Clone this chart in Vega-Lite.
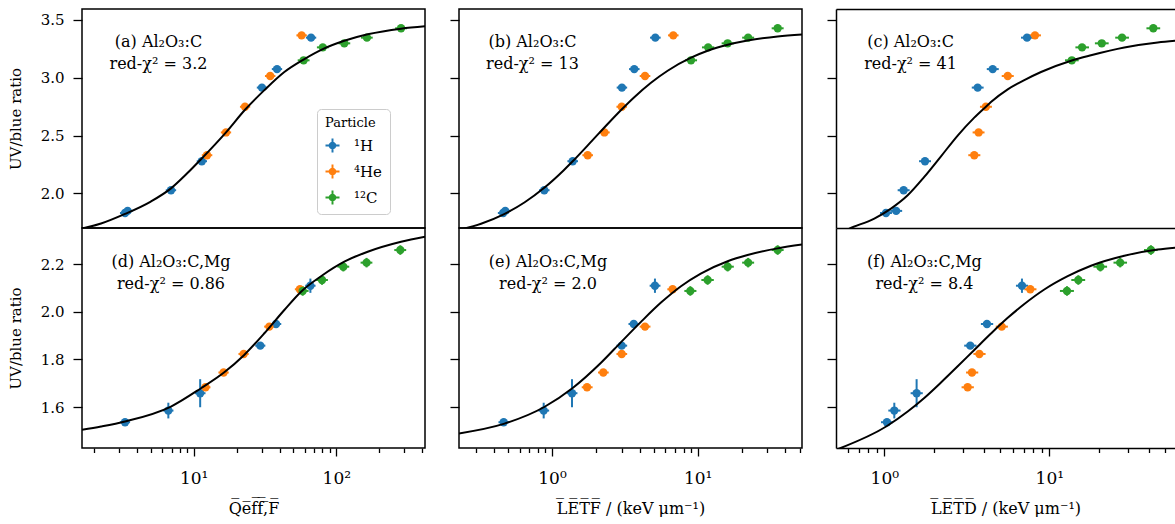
{
"$schema": "https://vega.github.io/schema/vega-lite/v6.json",
"padding": {"left": 7, "top": 8, "right": 0, "bottom": 0},
"background": "white",
"datasets": {
"pts": [
{"p":"a","s":"¹H","x":3.30,"y":1.83,"x1":3.04,"x2":3.58,"y1":1.822,"y2":1.838},
{"p":"a","s":"¹H","x":3.44,"y":1.848,"x1":3.16,"x2":3.74,"y1":1.840,"y2":1.856},
{"p":"a","s":"¹H","x":6.93,"y":2.027,"x1":6.37,"x2":7.53,"y1":2.019,"y2":2.035},
{"p":"a","s":"¹H","x":11.4,"y":2.278,"x1":10.5,"x2":12.4,"y1":2.27,"y2":2.286},
{"p":"a","s":"¹H","x":30.1,"y":2.915,"x1":27.7,"x2":32.7,"y1":2.907,"y2":2.923},
{"p":"a","s":"¹H","x":38.4,"y":3.075,"x1":35.3,"x2":41.7,"y1":3.067,"y2":3.083},
{"p":"a","s":"¹H","x":66.5,"y":3.347,"x1":61.2,"x2":72.3,"y1":3.339,"y2":3.355},
{"p":"a","s":"⁴He","x":12.4,"y":2.33,"x1":11.4,"x2":13.5,"y1":2.322,"y2":2.338},
{"p":"a","s":"⁴He","x":16.85,"y":2.527,"x1":15.5,"x2":18.3,"y1":2.519,"y2":2.535},
{"p":"a","s":"⁴He","x":22.9,"y":2.749,"x1":21.1,"x2":24.9,"y1":2.741,"y2":2.757},
{"p":"a","s":"⁴He","x":34.4,"y":3.015,"x1":31.6,"x2":37.4,"y1":3.007,"y2":3.023},
{"p":"a","s":"⁴He","x":57.1,"y":3.367,"x1":52.5,"x2":62.1,"y1":3.359,"y2":3.375},
{"p":"a","s":"¹²C","x":59.0,"y":3.151,"x1":53.6,"x2":64.9,"y1":3.131,"y2":3.171},
{"p":"a","s":"¹²C","x":80.4,"y":3.263,"x1":73.1,"x2":88.4,"y1":3.243,"y2":3.283},
{"p":"a","s":"¹²C","x":113.8,"y":3.298,"x1":103.5,"x2":125.2,"y1":3.278,"y2":3.318},
{"p":"a","s":"¹²C","x":164,"y":3.347,"x1":149,"x2":180,"y1":3.327,"y2":3.367},
{"p":"a","s":"¹²C","x":284.5,"y":3.428,"x1":258.6,"x2":313,"y1":3.408,"y2":3.448},

{"p":"b","s":"¹H","x":0.462,"y":1.83,"x1":0.425,"x2":0.502,"y1":1.822,"y2":1.838},
{"p":"b","s":"¹H","x":0.478,"y":1.848,"x1":0.44,"x2":0.52,"y1":1.840,"y2":1.856},
{"p":"b","s":"¹H","x":0.885,"y":2.027,"x1":0.814,"x2":0.962,"y1":2.019,"y2":2.035},
{"p":"b","s":"¹H","x":1.387,"y":2.278,"x1":1.276,"x2":1.508,"y1":2.27,"y2":2.286},
{"p":"b","s":"¹H","x":3.02,"y":2.915,"x1":2.78,"x2":3.28,"y1":2.907,"y2":2.923},
{"p":"b","s":"¹H","x":3.67,"y":3.075,"x1":3.38,"x2":3.99,"y1":3.067,"y2":3.083},
{"p":"b","s":"¹H","x":5.12,"y":3.347,"x1":4.71,"x2":5.57,"y1":3.339,"y2":3.355},
{"p":"b","s":"⁴He","x":1.758,"y":2.33,"x1":1.617,"x2":1.911,"y1":2.322,"y2":2.338},
{"p":"b","s":"⁴He","x":2.29,"y":2.527,"x1":2.107,"x2":2.49,"y1":2.519,"y2":2.535},
{"p":"b","s":"⁴He","x":3.01,"y":2.749,"x1":2.77,"x2":3.27,"y1":2.741,"y2":2.757},
{"p":"b","s":"⁴He","x":4.35,"y":3.015,"x1":4.0,"x2":4.73,"y1":3.007,"y2":3.023},
{"p":"b","s":"⁴He","x":6.80,"y":3.367,"x1":6.26,"x2":7.39,"y1":3.359,"y2":3.375},
{"p":"b","s":"¹²C","x":9.0,"y":3.151,"x1":8.18,"x2":9.9,"y1":3.131,"y2":3.171},
{"p":"b","s":"¹²C","x":11.8,"y":3.263,"x1":10.7,"x2":13.0,"y1":3.243,"y2":3.283},
{"p":"b","s":"¹²C","x":16.06,"y":3.298,"x1":14.6,"x2":17.7,"y1":3.278,"y2":3.318},
{"p":"b","s":"¹²C","x":22.2,"y":3.347,"x1":20.2,"x2":24.4,"y1":3.327,"y2":3.367},
{"p":"b","s":"¹²C","x":35.4,"y":3.428,"x1":32.2,"x2":38.9,"y1":3.408,"y2":3.448},

{"p":"c","s":"¹H","x":1.024,"y":1.83,"x1":0.942,"x2":1.113,"y1":1.822,"y2":1.838},
{"p":"c","s":"¹H","x":1.18,"y":1.848,"x1":1.086,"x2":1.283,"y1":1.840,"y2":1.856},
{"p":"c","s":"¹H","x":1.31,"y":2.027,"x1":1.205,"x2":1.424,"y1":2.019,"y2":2.035},
{"p":"c","s":"¹H","x":1.765,"y":2.278,"x1":1.624,"x2":1.919,"y1":2.27,"y2":2.286},
{"p":"c","s":"¹H","x":3.68,"y":2.915,"x1":3.39,"x2":4.0,"y1":2.907,"y2":2.923},
{"p":"c","s":"¹H","x":4.54,"y":3.075,"x1":4.18,"x2":4.94,"y1":3.067,"y2":3.083},
{"p":"c","s":"¹H","x":7.33,"y":3.347,"x1":6.74,"x2":7.97,"y1":3.339,"y2":3.355},
{"p":"c","s":"⁴He","x":3.51,"y":2.33,"x1":3.23,"x2":3.82,"y1":2.322,"y2":2.338},
{"p":"c","s":"⁴He","x":3.73,"y":2.527,"x1":3.43,"x2":4.05,"y1":2.519,"y2":2.535},
{"p":"c","s":"⁴He","x":4.13,"y":2.749,"x1":3.80,"x2":4.49,"y1":2.741,"y2":2.757},
{"p":"c","s":"⁴He","x":5.60,"y":3.015,"x1":5.15,"x2":6.09,"y1":3.007,"y2":3.023},
{"p":"c","s":"⁴He","x":8.19,"y":3.367,"x1":7.53,"x2":8.90,"y1":3.359,"y2":3.375},
{"p":"c","s":"¹²C","x":13.7,"y":3.151,"x1":12.45,"x2":15.07,"y1":3.131,"y2":3.171},
{"p":"c","s":"¹²C","x":15.8,"y":3.263,"x1":14.4,"x2":17.4,"y1":3.243,"y2":3.283},
{"p":"c","s":"¹²C","x":20.8,"y":3.298,"x1":18.9,"x2":22.9,"y1":3.278,"y2":3.318},
{"p":"c","s":"¹²C","x":27.6,"y":3.347,"x1":25.1,"x2":30.4,"y1":3.327,"y2":3.367},
{"p":"c","s":"¹²C","x":42.7,"y":3.428,"x1":38.8,"x2":47.0,"y1":3.408,"y2":3.448},

{"p":"d","s":"¹H","x":3.30,"y":1.536,"x1":3.04,"x2":3.58,"y1":1.528,"y2":1.544},
{"p":"d","s":"¹H","x":6.64,"y":1.585,"x1":6.11,"x2":7.21,"y1":1.552,"y2":1.618},
{"p":"d","s":"¹H","x":11.1,"y":1.658,"x1":10.2,"x2":12.1,"y1":1.599,"y2":1.717},
{"p":"d","s":"¹H","x":29.3,"y":1.858,"x1":27.0,"x2":31.8,"y1":1.85,"y2":1.866},
{"p":"d","s":"¹H","x":37.8,"y":1.949,"x1":34.8,"x2":41.1,"y1":1.941,"y2":1.957},
{"p":"d","s":"¹H","x":65.8,"y":2.11,"x1":60.5,"x2":71.5,"y1":2.08,"y2":2.14},
{"p":"d","s":"⁴He","x":12.1,"y":1.683,"x1":11.1,"x2":13.1,"y1":1.675,"y2":1.691},
{"p":"d","s":"⁴He","x":16.2,"y":1.745,"x1":14.9,"x2":17.6,"y1":1.737,"y2":1.753},
{"p":"d","s":"⁴He","x":22.4,"y":1.823,"x1":20.6,"x2":24.3,"y1":1.815,"y2":1.831},
{"p":"d","s":"⁴He","x":33.9,"y":1.938,"x1":31.2,"x2":36.8,"y1":1.93,"y2":1.946},
{"p":"d","s":"⁴He","x":55.6,"y":2.095,"x1":51.2,"x2":60.4,"y1":2.087,"y2":2.103},
{"p":"d","s":"¹²C","x":58.1,"y":2.088,"x1":52.8,"x2":63.9,"y1":2.068,"y2":2.108},
{"p":"d","s":"¹²C","x":79.4,"y":2.134,"x1":72.2,"x2":87.3,"y1":2.114,"y2":2.154},
{"p":"d","s":"¹²C","x":112,"y":2.19,"x1":101.8,"x2":123.2,"y1":2.17,"y2":2.21},
{"p":"d","s":"¹²C","x":163,"y":2.207,"x1":148,"x2":179,"y1":2.187,"y2":2.227},
{"p":"d","s":"¹²C","x":281,"y":2.26,"x1":255,"x2":309,"y1":2.24,"y2":2.28},

{"p":"e","s":"¹H","x":0.466,"y":1.536,"x1":0.429,"x2":0.508,"y1":1.528,"y2":1.544},
{"p":"e","s":"¹H","x":0.877,"y":1.585,"x1":0.807,"x2":0.956,"y1":1.552,"y2":1.618},
{"p":"e","s":"¹H","x":1.372,"y":1.658,"x1":1.262,"x2":1.495,"y1":1.599,"y2":1.717},
{"p":"e","s":"¹H","x":3.01,"y":1.858,"x1":2.77,"x2":3.28,"y1":1.85,"y2":1.866},
{"p":"e","s":"¹H","x":3.64,"y":1.949,"x1":3.35,"x2":3.97,"y1":1.941,"y2":1.957},
{"p":"e","s":"¹H","x":5.09,"y":2.11,"x1":4.68,"x2":5.55,"y1":2.08,"y2":2.14},
{"p":"e","s":"⁴He","x":1.74,"y":1.683,"x1":1.60,"x2":1.90,"y1":1.675,"y2":1.691},
{"p":"e","s":"⁴He","x":2.25,"y":1.745,"x1":2.07,"x2":2.45,"y1":1.737,"y2":1.753},
{"p":"e","s":"⁴He","x":3.01,"y":1.823,"x1":2.77,"x2":3.28,"y1":1.815,"y2":1.831},
{"p":"e","s":"⁴He","x":4.35,"y":1.938,"x1":4.0,"x2":4.74,"y1":1.93,"y2":1.946},
{"p":"e","s":"⁴He","x":6.73,"y":2.095,"x1":6.19,"x2":7.34,"y1":2.087,"y2":2.103},
{"p":"e","s":"¹²C","x":8.9,"y":2.088,"x1":8.1,"x2":9.8,"y1":2.068,"y2":2.108},
{"p":"e","s":"¹²C","x":11.7,"y":2.134,"x1":10.6,"x2":12.9,"y1":2.114,"y2":2.154},
{"p":"e","s":"¹²C","x":16.06,"y":2.19,"x1":14.6,"x2":17.7,"y1":2.17,"y2":2.21},
{"p":"e","s":"¹²C","x":22.2,"y":2.207,"x1":20.2,"x2":24.4,"y1":2.187,"y2":2.227},
{"p":"e","s":"¹²C","x":35.4,"y":2.26,"x1":32.2,"x2":38.9,"y1":2.24,"y2":2.28},

{"p":"f","s":"¹H","x":1.038,"y":1.536,"x1":0.955,"x2":1.131,"y1":1.528,"y2":1.544},
{"p":"f","s":"¹H","x":1.15,"y":1.585,"x1":1.058,"x2":1.254,"y1":1.552,"y2":1.618},
{"p":"f","s":"¹H","x":1.57,"y":1.658,"x1":1.444,"x2":1.711,"y1":1.599,"y2":1.717},
{"p":"f","s":"¹H","x":3.32,"y":1.858,"x1":3.05,"x2":3.62,"y1":1.85,"y2":1.866},
{"p":"f","s":"¹H","x":4.19,"y":1.949,"x1":3.85,"x2":4.57,"y1":1.941,"y2":1.957},
{"p":"f","s":"¹H","x":6.83,"y":2.11,"x1":6.28,"x2":7.44,"y1":2.08,"y2":2.14},
{"p":"f","s":"⁴He","x":3.20,"y":1.683,"x1":2.94,"x2":3.49,"y1":1.675,"y2":1.691},
{"p":"f","s":"⁴He","x":3.40,"y":1.745,"x1":3.13,"x2":3.71,"y1":1.737,"y2":1.753},
{"p":"f","s":"⁴He","x":3.77,"y":1.823,"x1":3.47,"x2":4.11,"y1":1.815,"y2":1.831},
{"p":"f","s":"⁴He","x":5.15,"y":1.938,"x1":4.74,"x2":5.61,"y1":1.93,"y2":1.946},
{"p":"f","s":"⁴He","x":7.67,"y":2.095,"x1":7.06,"x2":8.36,"y1":2.087,"y2":2.103},
{"p":"f","s":"¹²C","x":12.8,"y":2.088,"x1":11.6,"x2":14.1,"y1":2.068,"y2":2.108},
{"p":"f","s":"¹²C","x":15.0,"y":2.134,"x1":13.6,"x2":16.5,"y1":2.114,"y2":2.154},
{"p":"f","s":"¹²C","x":20.4,"y":2.19,"x1":18.5,"x2":22.4,"y1":2.17,"y2":2.21},
{"p":"f","s":"¹²C","x":26.9,"y":2.207,"x1":24.5,"x2":29.6,"y1":2.187,"y2":2.227},
{"p":"f","s":"¹²C","x":41.3,"y":2.26,"x1":37.5,"x2":45.4,"y1":2.24,"y2":2.28}
],
"fit": [
{"p":"a","x":1.647,"y":1.696},{"p":"a","x":2.24,"y":1.739},{"p":"a","x":3.3,"y":1.822},{"p":"a","x":5.0,"y":1.929},{"p":"a","x":6.93,"y":2.043},{"p":"a","x":9.0,"y":2.173},{"p":"a","x":11.25,"y":2.295},{"p":"a","x":16.85,"y":2.528},{"p":"a","x":22.9,"y":2.723},{"p":"a","x":31.3,"y":2.893},{"p":"a","x":43.2,"y":3.05},{"p":"a","x":59.7,"y":3.162},{"p":"a","x":80.4,"y":3.248},{"p":"a","x":113.8,"y":3.32},{"p":"a","x":166,"y":3.376},{"p":"a","x":284.5,"y":3.425},{"p":"a","x":418.7,"y":3.445},
{"p":"b","x":0.23,"y":1.683},{"p":"b","x":0.326,"y":1.737},{"p":"b","x":0.466,"y":1.818},{"p":"b","x":0.65,"y":1.923},{"p":"b","x":0.885,"y":2.048},{"p":"b","x":1.2,"y":2.198},{"p":"b","x":1.387,"y":2.277},{"p":"b","x":1.9,"y":2.46},{"p":"b","x":2.41,"y":2.60},{"p":"b","x":2.98,"y":2.721},{"p":"b","x":3.67,"y":2.832},{"p":"b","x":4.78,"y":2.957},{"p":"b","x":6.22,"y":3.061},{"p":"b","x":9.0,"y":3.174},{"p":"b","x":11.7,"y":3.234},{"p":"b","x":16.06,"y":3.286},{"p":"b","x":22,"y":3.323},{"p":"b","x":35.4,"y":3.358},{"p":"b","x":52,"y":3.374},
{"p":"c","x":0.509,"y":1.64},{"p":"c","x":0.614,"y":1.695},{"p":"c","x":0.87,"y":1.782},{"p":"c","x":1.098,"y":1.868},{"p":"c","x":1.386,"y":1.983},{"p":"c","x":1.747,"y":2.142},{"p":"c","x":2.206,"y":2.32},{"p":"c","x":2.785,"y":2.50},{"p":"c","x":3.51,"y":2.655},{"p":"c","x":4.13,"y":2.75},{"p":"c","x":4.43,"y":2.79},{"p":"c","x":5.6,"y":2.90},{"p":"c","x":7.06,"y":2.98},{"p":"c","x":8.91,"y":3.05},{"p":"c","x":13.7,"y":3.15},{"p":"c","x":17.9,"y":3.195},{"p":"c","x":28.5,"y":3.262},{"p":"c","x":45.4,"y":3.305},{"p":"c","x":58.6,"y":3.32},
{"p":"d","x":1.647,"y":1.504},{"p":"d","x":2.24,"y":1.518},{"p":"d","x":3.3,"y":1.539},{"p":"d","x":6.93,"y":1.602},{"p":"d","x":11.25,"y":1.679},{"p":"d","x":16.3,"y":1.745},{"p":"d","x":22.6,"y":1.819},{"p":"d","x":31.3,"y":1.91},{"p":"d","x":43.2,"y":2.008},{"p":"d","x":56.6,"y":2.085},{"p":"d","x":80.4,"y":2.155},{"p":"d","x":113.8,"y":2.211},{"p":"d","x":166,"y":2.253},{"p":"d","x":284.5,"y":2.295},{"p":"d","x":418.7,"y":2.316},
{"p":"e","x":0.23,"y":1.489},{"p":"e","x":0.466,"y":1.529},{"p":"e","x":0.885,"y":1.600},{"p":"e","x":1.387,"y":1.680},{"p":"e","x":2.17,"y":1.786},{"p":"e","x":2.98,"y":1.873},{"p":"e","x":4.08,"y":1.958},{"p":"e","x":5.6,"y":2.039},{"p":"e","x":7.68,"y":2.108},{"p":"e","x":10.5,"y":2.161},{"p":"e","x":16.06,"y":2.213},{"p":"e","x":22,"y":2.239},{"p":"e","x":35.4,"y":2.267},{"p":"e","x":52,"y":2.283},
{"p":"f","x":0.509,"y":1.42},{"p":"f","x":1.038,"y":1.52},{"p":"f","x":1.386,"y":1.581},{"p":"f","x":1.747,"y":1.638},{"p":"f","x":2.206,"y":1.703},{"p":"f","x":2.785,"y":1.771},{"p":"f","x":3.51,"y":1.84},{"p":"f","x":4.43,"y":1.909},{"p":"f","x":5.6,"y":1.975},{"p":"f","x":7.06,"y":2.033},{"p":"f","x":9.33,"y":2.094},{"p":"f","x":12.93,"y":2.15},{"p":"f","x":17.9,"y":2.194},{"p":"f","x":28.5,"y":2.236},{"p":"f","x":45.4,"y":2.262},{"p":"f","x":58.6,"y":2.27}
]
},
"columns": 3,
"spacing": {"row": 0, "column": 34},
"bounds": "flush",
"align": "each",
"resolve": {"scale": {"color": "independent"}, "legend": {"color": "independent"}},
"concat": [
{
"width": 343, "height": 219,
"layer": [
{"data": {"name": "pts"}, "transform": [{"filter": "datum.p == 'a'"}],
 "mark": {"type": "rule", "strokeWidth": 2},
 "encoding": {"x": {"field": "x1", "type": "quantitative", "scale": {"type": "log", "domain": [1.647, 418.7], "nice": false}, "axis": null}, "x2": {"field": "x2"},
  "y": {"field": "y", "type": "quantitative", "scale": {"domain": [1.70, 3.595], "nice": false, "zero": false}, "axis": {"values": [2.0, 2.5, 3.0, 3.5], "format": ".1f", "title": "UV/blue ratio", "labelFont": "DejaVu Serif", "labelFontSize": 15, "titleFont": "DejaVu Serif", "titleFontSize": 15, "titleFontWeight": "normal", "titlePadding": 17}},
  "stroke": {"field": "s", "type": "nominal", "scale": {"domain": ["¹H", "⁴He", "¹²C"], "range": ["#1f77b4", "#ff7f0e", "#2ca02c"]}, "legend": null}}},
{"data": {"name": "pts"}, "transform": [{"filter": "datum.p == 'a'"}],
 "mark": {"type": "rule", "strokeWidth": 2},
 "encoding": {"x": {"field": "x", "type": "quantitative", "axis": null},
  "y": {"field": "y1", "type": "quantitative", "axis": {"values": [2.0, 2.5, 3.0, 3.5], "format": ".1f", "title": "UV/blue ratio", "labelFont": "DejaVu Serif", "labelFontSize": 15, "titleFont": "DejaVu Serif", "titleFontSize": 15, "titleFontWeight": "normal", "titlePadding": 17}}, "y2": {"field": "y2"},
  "stroke": {"field": "s", "type": "nominal", "legend": null}}},
{"data": {"name": "pts"}, "transform": [{"filter": "datum.p == 'a'"}],
 "mark": {"type": "point", "filled": true, "size": 70, "opacity": 1},
 "encoding": {"x": {"field": "x", "type": "quantitative", "axis": null},
  "y": {"field": "y", "type": "quantitative", "axis": {"values": [2.0, 2.5, 3.0, 3.5], "format": ".1f", "title": "UV/blue ratio", "labelFont": "DejaVu Serif", "labelFontSize": 15, "titleFont": "DejaVu Serif", "titleFontSize": 15, "titleFontWeight": "normal", "titlePadding": 17}},
  "color": {"field": "s", "type": "nominal", "scale": {"domain": ["¹H", "⁴He", "¹²C"], "range": ["#1f77b4", "#ff7f0e", "#2ca02c"]}, "legend": {"title": "Particle", "orient": "none", "legendX": 235, "legendY": 100,
    "symbolType": "M-1,-0.14H1V0.14H-1Z M-0.14,-1H0.14V1H-0.14Z M0.55,0A0.55,0.55,0,1,1,-0.55,0A0.55,0.55,0,1,1,0.55,0Z",
    "symbolSize": 196, "symbolStrokeWidth": 0, "labelFont": "DejaVu Serif", "labelFontSize": 15, "titleFont": "DejaVu Serif", "titleFontSize": 13, "titleFontWeight": "normal",
    "fillColor": "rgba(255,255,255,0.85)", "strokeColor": "#cccccc", "cornerRadius": 4, "padding": 8, "rowPadding": 10, "titlePadding": 8, "labelOffset": 14}}}},
{"data": {"name": "fit"}, "transform": [{"filter": "datum.p == 'a'"}],
 "mark": {"type": "line", "color": "black", "strokeWidth": 2, "interpolate": "monotone", "clip": true},
 "encoding": {"x": {"field": "x", "type": "quantitative", "axis": null}, "y": {"field": "y", "type": "quantitative", "axis": {"values": [2.0, 2.5, 3.0, 3.5], "format": ".1f", "title": "UV/blue ratio", "labelFont": "DejaVu Serif", "labelFontSize": 15, "titleFont": "DejaVu Serif", "titleFontSize": 15, "titleFontWeight": "normal", "titlePadding": 17}}}},
{"data": {"values": [{}]},
 "mark": {"type": "text", "align": "center", "baseline": "alphabetic", "fontSize": 16, "lineHeight": 22.6, "font": "DejaVu Serif"},
 "encoding": {"x": {"datum": 5.66, "type": "quantitative", "axis": null}, "y": {"datum": 3.269, "type": "quantitative", "axis": {"values": [2.0, 2.5, 3.0, 3.5], "format": ".1f", "title": "UV/blue ratio", "labelFont": "DejaVu Serif", "labelFontSize": 15, "titleFont": "DejaVu Serif", "titleFontSize": 15, "titleFontWeight": "normal", "titlePadding": 17}}, "text": {"value": ["(a) Al₂O₃:C", "red-χ² = 3.2"]}}}
]
},
{
"width": 343, "height": 219,
"layer": [
{"data": {"name": "pts"}, "transform": [{"filter": "datum.p == 'b'"}],
 "mark": {"type": "rule", "strokeWidth": 2},
 "encoding": {"x": {"field": "x1", "type": "quantitative", "scale": {"type": "log", "domain": [0.230, 52.0], "nice": false}, "axis": null}, "x2": {"field": "x2"},
  "y": {"field": "y", "type": "quantitative", "scale": {"domain": [1.70, 3.595], "nice": false, "zero": false}, "axis": {"values": [2.0, 2.5, 3.0, 3.5], "labels": false, "title": null}},
  "stroke": {"field": "s", "type": "nominal", "scale": {"domain": ["¹H", "⁴He", "¹²C"], "range": ["#1f77b4", "#ff7f0e", "#2ca02c"]}, "legend": null}}},
{"data": {"name": "pts"}, "transform": [{"filter": "datum.p == 'b'"}],
 "mark": {"type": "rule", "strokeWidth": 2},
 "encoding": {"x": {"field": "x", "type": "quantitative", "axis": null},
  "y": {"field": "y1", "type": "quantitative", "axis": {"values": [2.0, 2.5, 3.0, 3.5], "labels": false, "title": null}}, "y2": {"field": "y2"},
  "stroke": {"field": "s", "type": "nominal", "legend": null}}},
{"data": {"name": "pts"}, "transform": [{"filter": "datum.p == 'b'"}],
 "mark": {"type": "point", "filled": true, "size": 70, "opacity": 1},
 "encoding": {"x": {"field": "x", "type": "quantitative", "axis": null},
  "y": {"field": "y", "type": "quantitative", "axis": {"values": [2.0, 2.5, 3.0, 3.5], "labels": false, "title": null}},
  "color": {"field": "s", "type": "nominal", "scale": {"domain": ["¹H", "⁴He", "¹²C"], "range": ["#1f77b4", "#ff7f0e", "#2ca02c"]}, "legend": null}}},
{"data": {"name": "fit"}, "transform": [{"filter": "datum.p == 'b'"}],
 "mark": {"type": "line", "color": "black", "strokeWidth": 2, "interpolate": "monotone", "clip": true},
 "encoding": {"x": {"field": "x", "type": "quantitative", "axis": null}, "y": {"field": "y", "type": "quantitative", "axis": {"values": [2.0, 2.5, 3.0, 3.5], "labels": false, "title": null}}}},
{"data": {"values": [{}]},
 "mark": {"type": "text", "align": "center", "baseline": "alphabetic", "fontSize": 16, "lineHeight": 22.6, "font": "DejaVu Serif"},
 "encoding": {"x": {"datum": 0.735, "type": "quantitative", "axis": null}, "y": {"datum": 3.269, "type": "quantitative", "axis": {"values": [2.0, 2.5, 3.0, 3.5], "labels": false, "title": null}}, "text": {"value": ["(b) Al₂O₃:C", "red-χ² = 13"]}}}
]
},
{
"width": 339, "height": 219,
"view": {"stroke": null},
"resolve": {"axis": {"x": "independent"}},
"layer": [
{"data": {"name": "pts"}, "transform": [{"filter": "datum.p == 'c'"}],
 "mark": {"type": "rule", "strokeWidth": 2},
 "encoding": {"x": {"field": "x1", "type": "quantitative", "scale": {"type": "log", "domain": [0.5097, 57.8], "nice": false}, "axis": null}, "x2": {"field": "x2"},
  "y": {"field": "y", "type": "quantitative", "scale": {"domain": [1.70, 3.595], "nice": false, "zero": false}, "axis": {"values": [2.0, 2.5, 3.0, 3.5], "labels": false, "title": null, "domain": true, "domainColor": "black", "domainWidth": 1.5}},
  "stroke": {"field": "s", "type": "nominal", "scale": {"domain": ["¹H", "⁴He", "¹²C"], "range": ["#1f77b4", "#ff7f0e", "#2ca02c"]}, "legend": null}}},
{"data": {"name": "pts"}, "transform": [{"filter": "datum.p == 'c'"}],
 "mark": {"type": "rule", "strokeWidth": 2},
 "encoding": {"x": {"field": "x", "type": "quantitative", "axis": null},
  "y": {"field": "y1", "type": "quantitative", "axis": {"values": [2.0, 2.5, 3.0, 3.5], "labels": false, "title": null, "domain": true, "domainColor": "black", "domainWidth": 1.5}}, "y2": {"field": "y2"},
  "stroke": {"field": "s", "type": "nominal", "legend": null}}},
{"data": {"name": "pts"}, "transform": [{"filter": "datum.p == 'c'"}],
 "mark": {"type": "point", "filled": true, "size": 70, "opacity": 1},
 "encoding": {"x": {"field": "x", "type": "quantitative", "axis": null},
  "y": {"field": "y", "type": "quantitative", "axis": {"values": [2.0, 2.5, 3.0, 3.5], "labels": false, "title": null, "domain": true, "domainColor": "black", "domainWidth": 1.5}},
  "color": {"field": "s", "type": "nominal", "scale": {"domain": ["¹H", "⁴He", "¹²C"], "range": ["#1f77b4", "#ff7f0e", "#2ca02c"]}, "legend": null}}},
{"data": {"name": "fit"}, "transform": [{"filter": "datum.p == 'c'"}],
 "mark": {"type": "line", "color": "black", "strokeWidth": 2, "interpolate": "monotone", "clip": true},
 "encoding": {"x": {"field": "x", "type": "quantitative", "axis": {"orient": "top", "domain": true, "domainColor": "black", "domainWidth": 1.5, "ticks": false, "labels": false, "title": null}}, "y": {"field": "y", "type": "quantitative", "axis": {"values": [2.0, 2.5, 3.0, 3.5], "labels": false, "title": null, "domain": true, "domainColor": "black", "domainWidth": 1.5}}}},
{"data": {"values": [{}]},
 "mark": {"type": "text", "align": "center", "baseline": "alphabetic", "fontSize": 16, "lineHeight": 22.6, "font": "DejaVu Serif"},
 "encoding": {"x": {"datum": 1.443, "type": "quantitative", "axis": {"orient": "bottom", "domain": true, "domainColor": "black", "domainWidth": 1.5, "ticks": false, "labels": false, "title": null}}, "y": {"datum": 3.269, "type": "quantitative", "axis": {"values": [2.0, 2.5, 3.0, 3.5], "labels": false, "title": null, "domain": true, "domainColor": "black", "domainWidth": 1.5}}, "text": {"value": ["(c) Al₂O₃:C", "red-χ² = 41"]}}}
]
},
{
"width": 343, "height": 220,
"resolve": {"axis": {"x": "independent"}},
"layer": [
{"data": {"name": "pts"}, "transform": [{"filter": "datum.p == 'd'"}],
 "mark": {"type": "rule", "strokeWidth": 2},
 "encoding": {"x": {"field": "x1", "type": "quantitative", "scale": {"type": "log", "domain": [1.647, 418.7], "nice": false}, "axis": null}, "x2": {"field": "x2"},
  "y": {"field": "y", "type": "quantitative", "scale": {"domain": [1.4276, 2.3527], "nice": false, "zero": false}, "axis": {"values": [1.6, 1.8, 2.0, 2.2], "format": ".1f", "title": "UV/blue ratio", "labelFont": "DejaVu Serif", "labelFontSize": 15, "titleFont": "DejaVu Serif", "titleFontSize": 15, "titleFontWeight": "normal", "titlePadding": 17}},
  "stroke": {"field": "s", "type": "nominal", "scale": {"domain": ["¹H", "⁴He", "¹²C"], "range": ["#1f77b4", "#ff7f0e", "#2ca02c"]}, "legend": null}}},
{"data": {"name": "pts"}, "transform": [{"filter": "datum.p == 'd'"}],
 "mark": {"type": "rule", "strokeWidth": 2},
 "encoding": {"x": {"field": "x", "type": "quantitative", "axis": null},
  "y": {"field": "y1", "type": "quantitative", "axis": {"values": [1.6, 1.8, 2.0, 2.2], "format": ".1f", "title": "UV/blue ratio", "labelFont": "DejaVu Serif", "labelFontSize": 15, "titleFont": "DejaVu Serif", "titleFontSize": 15, "titleFontWeight": "normal", "titlePadding": 17}}, "y2": {"field": "y2"},
  "stroke": {"field": "s", "type": "nominal", "legend": null}}},
{"data": {"name": "pts"}, "transform": [{"filter": "datum.p == 'd'"}],
 "mark": {"type": "point", "filled": true, "size": 70, "opacity": 1},
 "encoding": {"x": {"field": "x", "type": "quantitative", "axis": {"orient": "bottom", "values": [10, 100], "labelExpr": "datum.value < 50 ? '10¹' : '10²'", "tickSize": 8, "labelPadding": 14, "labelFont": "DejaVu Serif", "labelFontSize": 17, "titleFont": "DejaVu Serif", "titleFontSize": 16, "titleFontWeight": "normal", "titlePadding": 14, "title": "Q̅e̅f̅f̅,̅F̅"}},
  "y": {"field": "y", "type": "quantitative", "axis": {"values": [1.6, 1.8, 2.0, 2.2], "format": ".1f", "title": "UV/blue ratio", "labelFont": "DejaVu Serif", "labelFontSize": 15, "titleFont": "DejaVu Serif", "titleFontSize": 15, "titleFontWeight": "normal", "titlePadding": 17}},
  "color": {"field": "s", "type": "nominal", "scale": {"domain": ["¹H", "⁴He", "¹²C"], "range": ["#1f77b4", "#ff7f0e", "#2ca02c"]}, "legend": null}}},
{"data": {"name": "fit"}, "transform": [{"filter": "datum.p == 'd'"}],
 "mark": {"type": "line", "color": "black", "strokeWidth": 2, "interpolate": "monotone", "clip": true},
 "encoding": {"x": {"field": "x", "type": "quantitative", "axis": {"orient": "bottom", "values": [2,3,4,5,6,7,8,9,20,30,40,50,60,70,80,90,200,300,400], "labels": false, "tickSize": 4.5, "title": null}}, "y": {"field": "y", "type": "quantitative", "axis": {"values": [1.6, 1.8, 2.0, 2.2], "format": ".1f", "title": "UV/blue ratio", "labelFont": "DejaVu Serif", "labelFontSize": 15, "titleFont": "DejaVu Serif", "titleFontSize": 15, "titleFontWeight": "normal", "titlePadding": 17}}}},
{"data": {"values": [{}]},
 "mark": {"type": "text", "align": "center", "baseline": "alphabetic", "fontSize": 16, "lineHeight": 22.6, "font": "DejaVu Serif"},
 "encoding": {"x": {"datum": 6.93, "type": "quantitative", "axis": null}, "y": {"datum": 2.19, "type": "quantitative", "axis": {"values": [1.6, 1.8, 2.0, 2.2], "format": ".1f", "title": "UV/blue ratio", "labelFont": "DejaVu Serif", "labelFontSize": 15, "titleFont": "DejaVu Serif", "titleFontSize": 15, "titleFontWeight": "normal", "titlePadding": 17}}, "text": {"value": ["(d) Al₂O₃:C,Mg", "red-χ² = 0.86"]}}}
]
},
{
"width": 343, "height": 220,
"resolve": {"axis": {"x": "independent"}},
"layer": [
{"data": {"name": "pts"}, "transform": [{"filter": "datum.p == 'e'"}],
 "mark": {"type": "rule", "strokeWidth": 2},
 "encoding": {"x": {"field": "x1", "type": "quantitative", "scale": {"type": "log", "domain": [0.230, 52.0], "nice": false}, "axis": null}, "x2": {"field": "x2"},
  "y": {"field": "y", "type": "quantitative", "scale": {"domain": [1.4276, 2.3527], "nice": false, "zero": false}, "axis": {"values": [1.6, 1.8, 2.0, 2.2], "labels": false, "title": null}},
  "stroke": {"field": "s", "type": "nominal", "scale": {"domain": ["¹H", "⁴He", "¹²C"], "range": ["#1f77b4", "#ff7f0e", "#2ca02c"]}, "legend": null}}},
{"data": {"name": "pts"}, "transform": [{"filter": "datum.p == 'e'"}],
 "mark": {"type": "rule", "strokeWidth": 2},
 "encoding": {"x": {"field": "x", "type": "quantitative", "axis": null},
  "y": {"field": "y1", "type": "quantitative", "axis": {"values": [1.6, 1.8, 2.0, 2.2], "labels": false, "title": null}}, "y2": {"field": "y2"},
  "stroke": {"field": "s", "type": "nominal", "legend": null}}},
{"data": {"name": "pts"}, "transform": [{"filter": "datum.p == 'e'"}],
 "mark": {"type": "point", "filled": true, "size": 70, "opacity": 1},
 "encoding": {"x": {"field": "x", "type": "quantitative", "axis": {"orient": "bottom", "values": [1, 10], "labelExpr": "datum.value < 5 ? '10⁰' : '10¹'", "tickSize": 8, "labelPadding": 14, "labelFont": "DejaVu Serif", "labelFontSize": 17, "titleFont": "DejaVu Serif", "titleFontSize": 16, "titleFontWeight": "normal", "titlePadding": 14, "title": "L̅E̅T̅F̅ / (keV µm⁻¹)"}},
  "y": {"field": "y", "type": "quantitative", "axis": {"values": [1.6, 1.8, 2.0, 2.2], "labels": false, "title": null}},
  "color": {"field": "s", "type": "nominal", "scale": {"domain": ["¹H", "⁴He", "¹²C"], "range": ["#1f77b4", "#ff7f0e", "#2ca02c"]}, "legend": null}}},
{"data": {"name": "fit"}, "transform": [{"filter": "datum.p == 'e'"}],
 "mark": {"type": "line", "color": "black", "strokeWidth": 2, "interpolate": "monotone", "clip": true},
 "encoding": {"x": {"field": "x", "type": "quantitative", "axis": {"orient": "bottom", "values": [0.3,0.4,0.5,0.6,0.7,0.8,0.9,2,3,4,5,6,7,8,9,20,30,40,50], "labels": false, "tickSize": 4.5, "title": null}}, "y": {"field": "y", "type": "quantitative", "axis": {"values": [1.6, 1.8, 2.0, 2.2], "labels": false, "title": null}}}},
{"data": {"values": [{}]},
 "mark": {"type": "text", "align": "center", "baseline": "alphabetic", "fontSize": 16, "lineHeight": 22.6, "font": "DejaVu Serif"},
 "encoding": {"x": {"datum": 0.939, "type": "quantitative", "axis": null}, "y": {"datum": 2.19, "type": "quantitative", "axis": {"values": [1.6, 1.8, 2.0, 2.2], "labels": false, "title": null}}, "text": {"value": ["(e) Al₂O₃:C,Mg", "red-χ² = 2.0"]}}}
]
},
{
"width": 339, "height": 220,
"view": {"stroke": null},
"resolve": {"axis": {"x": "independent"}},
"layer": [
{"data": {"name": "pts"}, "transform": [{"filter": "datum.p == 'f'"}],
 "mark": {"type": "rule", "strokeWidth": 2},
 "encoding": {"x": {"field": "x1", "type": "quantitative", "scale": {"type": "log", "domain": [0.5097, 57.8], "nice": false}, "axis": null}, "x2": {"field": "x2"},
  "y": {"field": "y", "type": "quantitative", "scale": {"domain": [1.4276, 2.3527], "nice": false, "zero": false}, "axis": {"values": [1.6, 1.8, 2.0, 2.2], "labels": false, "title": null, "domain": true, "domainColor": "black", "domainWidth": 1.5}},
  "stroke": {"field": "s", "type": "nominal", "scale": {"domain": ["¹H", "⁴He", "¹²C"], "range": ["#1f77b4", "#ff7f0e", "#2ca02c"]}, "legend": null}}},
{"data": {"name": "pts"}, "transform": [{"filter": "datum.p == 'f'"}],
 "mark": {"type": "rule", "strokeWidth": 2},
 "encoding": {"x": {"field": "x", "type": "quantitative", "axis": null},
  "y": {"field": "y1", "type": "quantitative", "axis": {"values": [1.6, 1.8, 2.0, 2.2], "labels": false, "title": null, "domain": true, "domainColor": "black", "domainWidth": 1.5}}, "y2": {"field": "y2"},
  "stroke": {"field": "s", "type": "nominal", "legend": null}}},
{"data": {"name": "pts"}, "transform": [{"filter": "datum.p == 'f'"}],
 "mark": {"type": "point", "filled": true, "size": 70, "opacity": 1},
 "encoding": {"x": {"field": "x", "type": "quantitative", "axis": {"orient": "bottom", "values": [1, 10], "labelExpr": "datum.value < 5 ? '10⁰' : '10¹'", "tickSize": 8, "labelPadding": 14, "labelFont": "DejaVu Serif", "labelFontSize": 17, "titleFont": "DejaVu Serif", "titleFontSize": 16, "titleFontWeight": "normal", "titlePadding": 14, "title": "L̅E̅T̅D̅ / (keV µm⁻¹)", "domain": true, "domainColor": "black", "domainWidth": 1.5}},
  "y": {"field": "y", "type": "quantitative", "axis": {"values": [1.6, 1.8, 2.0, 2.2], "labels": false, "title": null, "domain": true, "domainColor": "black", "domainWidth": 1.5}},
  "color": {"field": "s", "type": "nominal", "scale": {"domain": ["¹H", "⁴He", "¹²C"], "range": ["#1f77b4", "#ff7f0e", "#2ca02c"]}, "legend": null}}},
{"data": {"name": "fit"}, "transform": [{"filter": "datum.p == 'f'"}],
 "mark": {"type": "line", "color": "black", "strokeWidth": 2, "interpolate": "monotone", "clip": true},
 "encoding": {"x": {"field": "x", "type": "quantitative", "axis": {"orient": "bottom", "values": [0.6,0.7,0.8,0.9,2,3,4,5,6,7,8,9,20,30,40,50], "labels": false, "tickSize": 4.5, "title": null}}, "y": {"field": "y", "type": "quantitative", "axis": {"values": [1.6, 1.8, 2.0, 2.2], "labels": false, "title": null, "domain": true, "domainColor": "black", "domainWidth": 1.5}}}},
{"data": {"values": [{}]},
 "mark": {"type": "text", "align": "center", "baseline": "alphabetic", "fontSize": 16, "lineHeight": 22.6, "font": "DejaVu Serif"},
 "encoding": {"x": {"datum": 1.75, "type": "quantitative", "axis": null}, "y": {"datum": 2.19, "type": "quantitative", "axis": {"values": [1.6, 1.8, 2.0, 2.2], "labels": false, "title": null, "domain": true, "domainColor": "black", "domainWidth": 1.5}}, "text": {"value": ["(f) Al₂O₃:C,Mg", "red-χ² = 8.4"]}}}
]
}
],
"config": {
"view": {"stroke": "black", "strokeWidth": 1.5},
"font": "DejaVu Serif",
"axis": {"domain": false, "grid": false, "tickColor": "black", "tickWidth": 1.3, "labelColor": "black", "titleColor": "black", "labelFont": "DejaVu Serif", "titleFont": "DejaVu Serif", "labelFontSize": 15, "titleFontSize": 15, "titleFontWeight": "normal"},
"axisY": {"tickSize": 9, "labelPadding": 9, "titlePadding": 17},
"axisX": {"labelPadding": 14, "titlePadding": 14}
}
}
